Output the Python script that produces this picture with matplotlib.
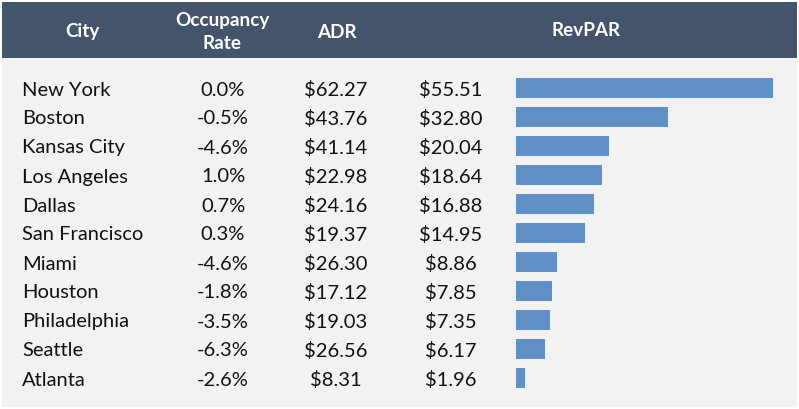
import matplotlib.pyplot as plt
from matplotlib.patches import Rectangle

cities = ["New York", "Boston", "Kansas City", "Los Angeles", "Dallas",
          "San Francisco", "Miami", "Houston", "Philadelphia", "Seattle", "Atlanta"]
occupancy = [0.0, -0.5, -4.6, 1.0, 0.7, 0.3, -4.6, -1.8, -3.5, -6.3, -2.6]
adr = [62.27, 43.76, 41.14, 22.98, 24.16, 19.37, 26.30, 17.12, 19.03, 26.56, 8.31]
revpar = [55.51, 32.80, 20.04, 18.64, 16.88, 14.95, 8.86, 7.85, 7.35, 6.17, 1.96]

W, H = 799, 409
header_bg = "#44546A"
body_bg = "#F2F2F2"
bar_color = "#6190C9"
font = "Lato"

fig = plt.figure(figsize=(W / 100, H / 100), dpi=100, facecolor="white")

# full-figure axes in pixel units for the table layout
ax = fig.add_axes([0, 0, 1, 1])
ax.set_xlim(0, W)
ax.set_ylim(H, 0)
ax.axis("off")
ax.add_patch(Rectangle((2, 2), W - 4, H - 4, facecolor=body_bg, edgecolor="none"))
ax.add_patch(Rectangle((2, 2), W - 4, 56, facecolor=header_bg, edgecolor="none"))

hdr = dict(color="white", fontsize=13.6, fontweight="bold", family=font,
           ha="center", va="center")
ax.text(82, 32, "City", **hdr)
ax.text(222, 32, "Occupancy\nRate", linespacing=1.4, **hdr)
ax.text(337, 32, "ADR", **hdr)
ax.text(586, 31, "RevPAR", **hdr)

row0, step = 88, 29
body = dict(color="#111111", fontsize=14.5, family=font, va="center")
for i, city in enumerate(cities):
    y = row0 + 2 + i * step
    ax.text(22, y, city, ha="left", **body)
    ax.text(223, y, f"{occupancy[i]:.1f}%", ha="center", **body)
    ax.text(336, y, f"${adr[i]:.2f}", ha="center", **body)
    ax.text(451, y, f"${revpar[i]:.2f}", ha="center", **body)

# RevPAR bars
top = row0 - step / 2
n = len(cities)
bx = fig.add_axes([516 / W, 1 - (top + n * step) / H, 257 / W, n * step / H])
bx.barh(range(n), revpar, height=0.72, color=bar_color)
bx.set_xlim(0, max(revpar))
bx.set_ylim(n - 0.5, -0.5)
bx.axis("off")

fig.savefig("out.png", dpi=100, facecolor="white")
